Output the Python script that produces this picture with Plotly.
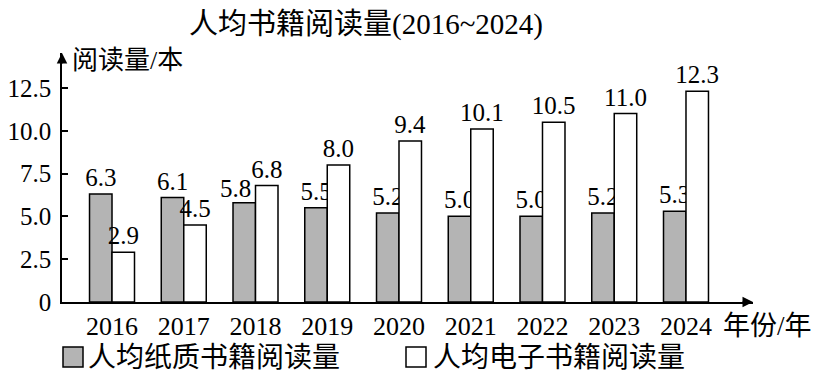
import plotly.graph_objects as go

years = ["2016", "2017", "2018", "2019", "2020", "2021", "2022", "2023", "2024"]
paper_books = [6.3, 6.1, 5.8, 5.5, 5.2, 5.0, 5.0, 5.2, 5.3]
ebooks = [2.9, 4.5, 6.8, 8.0, 9.4, 10.1, 10.5, 11.0, 12.3]
paper_labels = ["6.3", "6.1", "5.8", "5.5", "5.2", "5.0", "5.0", "5.2", "5.3"]
ebook_labels = ["2.9", "4.5", "6.8", "8.0", "9.4", "10.1", "10.5", "11.0", "12.3"]
y_tickvals = [0, 2.5, 5, 7.5, 10, 12.5]
y_ticktext = ["0", "2.5", "5.0", "7.5", "10.0", "12.5"]
series_names = ["人均纸质书籍阅读量", "人均电子书籍阅读量"]
series_colors = ["#b4b4b4", "white"]

FONT = "Liberation Serif, Times New Roman, Noto Sans CJK SC, serif"
W, H = 824, 379
L, R, T, B = 62, 753, 53, 302  # plot area in pixels


def px(x):
    return (x - L) / (R - L)


def py(y):
    return (B - y) / (B - T)


# gray-bar labels that sit next to a slightly taller white bar get nudged left (as in the reference)
nudged = [e > p and e - p < 1.5 for p, e in zip(paper_books, ebooks)]
paper_pos = ["none" if n else "outside" for n in nudged]

fig = go.Figure()
for vals, labels, pos, name, color in [
        (paper_books, paper_labels, paper_pos, series_names[0], series_colors[0]),
        (ebooks, ebook_labels, "outside", series_names[1], series_colors[1])]:
    fig.add_trace(go.Bar(
        x=years, y=vals, name=name, showlegend=False,
        marker=dict(color=color, line=dict(color="black", width=1.5)),
        text=labels, textposition=pos, constraintext="none",
        textfont=dict(size=25, color="black", family=FONT), cliponaxis=False,
    ))

for i, (v, t, n) in enumerate(zip(paper_books, paper_labels, nudged)):
    if n:
        fig.add_annotation(xref="x", yref="y", x=i, y=v, text=t, showarrow=False,
                           xanchor="center", yanchor="bottom", xshift=-20, yshift=0,
                           borderpad=0, font=dict(size=25, family=FONT, color="black"))

fig.update_layout(
    width=W, height=H,
    margin=dict(l=L, r=W - R, t=T, b=H - B, autoexpand=False),
    paper_bgcolor="white", plot_bgcolor="white",
    font=dict(family=FONT, size=25, color="black"),
    barmode="group", bargap=0.373, bargroupgap=0,
    title=dict(text="人均书籍阅读量(2016~2024)", x=366 / W, xanchor="center",
               y=1 - 24 / H, yanchor="middle", font=dict(size=29, family=FONT)),
    showlegend=False,
    xaxis=dict(type="category", range=[-0.697, 8.934], showline=True, linecolor="black",
               linewidth=1.5, ticks="", showgrid=False, zeroline=False, automargin=False,
               tickfont=dict(size=26, family=FONT)),
    yaxis=dict(range=[0, 14.54], showline=True, linecolor="black", linewidth=1.5,
               ticks="inside", ticklen=6, tickcolor="black", tickwidth=1.5, automargin=False,
               tickvals=y_tickvals, ticktext=y_ticktext, showgrid=False, zeroline=False,
               tickfont=dict(size=25, family=FONT), ticklabelstandoff=4),
)

# axis arrows
fig.add_annotation(xref="paper", yref="paper", x=0, y=1.0, ax=0, ay=12,
                   text="", showarrow=True, arrowhead=2, arrowsize=1.4, arrowwidth=1.5,
                   arrowcolor="black")
fig.add_annotation(xref="paper", yref="paper", x=1.0, y=0, ax=-12, ay=0,
                   text="", showarrow=True, arrowhead=2, arrowsize=1.4, arrowwidth=1.5,
                   arrowcolor="black")
# axis titles
fig.add_annotation(xref="paper", yref="paper", x=px(70), y=py(61), xanchor="left", yanchor="middle",
                   text="阅读量/本", showarrow=False, font=dict(size=26, family=FONT))
fig.add_annotation(xref="paper", yref="paper", x=px(721), y=py(326), xanchor="left", yanchor="middle",
                   text="年份/年", showarrow=False, font=dict(size=27, family=FONT))

# legend (bottom)
for (sx, tx), name, color in zip([(63, 86), (406, 431)], series_names, series_colors):
    fig.add_shape(type="rect", xref="paper", yref="paper",
                  x0=px(sx), x1=px(sx + 20), y0=py(347), y1=py(367),
                  fillcolor=color, line=dict(color="black", width=1.5))
    fig.add_annotation(xref="paper", yref="paper", x=px(tx), y=py(357), xanchor="left",
                       yanchor="middle", text=name, showarrow=False,
                       font=dict(size=28, family=FONT))

fig.write_html("out.html", config={"displayModeBar": False},
               post_script="document.body.style.margin='0';document.body.style.padding='0';")
